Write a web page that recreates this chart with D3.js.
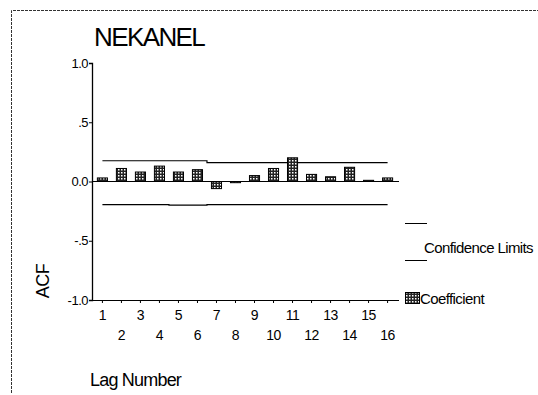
<!DOCTYPE html>
<html>
<head>
<meta charset="utf-8">
<script src="https://cdn.jsdelivr.net/npm/d3@7"></script>
<style>
  body { margin: 0; background: #fff; }
  text { font-family: "Liberation Sans", Arial, sans-serif; fill: #000; }
</style>
</head>
<body>
<div id="chart"></div>
<script>
// ACF values
var lags = [1, 2, 3, 4, 5, 6, 7, 8, 9, 10, 11, 12, 13, 14, 15, 16];
var coefficient = [0.03, 0.11, 0.08, 0.13, 0.08, 0.10, -0.06, -0.01, 0.05, 0.11, 0.20, 0.06, 0.04, 0.12, 0.01, 0.03];
var upper_limit = [0.175, 0.175, 0.175, 0.175, 0.175, 0.175, 0.16, 0.16, 0.16, 0.16, 0.16, 0.16, 0.16, 0.16, 0.16, 0.16];
var lower_limit = [-0.195, -0.195, -0.195, -0.195, -0.2, -0.2, -0.195, -0.195, -0.195, -0.195, -0.195, -0.195, -0.195, -0.195, -0.195, -0.195];
var y_ticks = [1.0, 0.5, 0.0, -0.5, -1.0];
var y_tick_labels = ["1.0", ".5", "0.0", "-.5", "-1.0"];

var width = 538,
    height = 395;

var svg = d3.select("#chart").append("svg")
    .attr("width", width)
    .attr("height", height);

// dotted fill for the bars
var pat = svg.append("defs").append("pattern")
    .attr("id", "dots")
    .attr("patternUnits", "userSpaceOnUse")
    .attr("width", 3)
    .attr("height", 3);
pat.append("rect").attr("width", 3).attr("height", 3).attr("fill", "#222");
pat.append("rect").attr("x", 1).attr("y", 1).attr("width", 1.5).attr("height", 1.5).attr("fill", "#fff");

// outer frame (only top and left show)
svg.append("path")
    .attr("d", "M11.5,393 V10.5 H538")
    .attr("fill", "none")
    .attr("stroke", "#333")
    .attr("stroke-dasharray", "3,1");

var x = d3.scaleBand()
    .domain(lags)
    .range([93, 397])
    .paddingInner(0.47)
    .paddingOuter(0.23);

var y = d3.scaleLinear()
    .domain([-1, 1])
    .range([300, 63]);

// title
svg.append("text")
    .attr("x", 94)
    .attr("y", 46)
    .attr("font-size", 26)
    .attr("letter-spacing", -1.6)
    .text("NEKANEL");

// y axis
var yAxis = svg.append("g")
    .attr("transform", "translate(92,0)")
    .call(d3.axisLeft(y)
        .tickValues(y_ticks)
        .tickSize(3)
        .tickFormat(function(d, i) { return y_tick_labels[i]; }));
yAxis.select(".domain").attr("stroke-width", 1.3);
yAxis.selectAll("text")
    .attr("font-size", 13)
    .attr("letter-spacing", -0.5)
    .attr("x", -4);

// x axis
var xAxis = svg.append("g")
    .attr("transform", "translate(0,300)")
    .call(d3.axisBottom(x).tickSize(3).tickSizeOuter(0));
xAxis.select(".domain").attr("d", "M92,0.5H399");
xAxis.selectAll("text")
    .attr("font-size", 14)
    .attr("letter-spacing", -0.5)
    .attr("y", function(d) { return d % 2 === 1 ? 10 : 30; });

// zero line
svg.append("line")
    .attr("x1", 92)
    .attr("x2", 399)
    .attr("y1", y(0))
    .attr("y2", y(0))
    .attr("stroke", "#000");

// confidence limits
var limit_line = d3.line()
    .x(function(d, i) { return x(lags[i]) + x.bandwidth() / 2; })
    .y(function(d) { return y(d); })
    .curve(d3.curveStep);

[upper_limit, lower_limit].forEach(function(vals) {
    svg.append("path")
        .attr("d", limit_line(vals))
        .attr("fill", "none")
        .attr("stroke", "#000")
        .attr("stroke-width", 1.2);
});

// bars
svg.append("g").selectAll("rect")
    .data(coefficient)
    .enter().append("rect")
    .attr("x", function(d, i) { return x(lags[i]); })
    .attr("width", x.bandwidth())
    .attr("y", function(d) { return y(Math.max(0, d)); })
    .attr("height", function(d) { return Math.abs(y(d) - y(0)); })
    .attr("fill", "url(#dots)")
    .attr("stroke", "#000")
    .attr("stroke-width", 1);

// axis titles
svg.append("text")
    .attr("transform", "translate(49,281) rotate(-90)")
    .attr("text-anchor", "middle")
    .attr("font-size", 18)
    .attr("letter-spacing", -0.5)
    .text("ACF");

svg.append("text")
    .attr("x", 90)
    .attr("y", 386)
    .attr("font-size", 18)
    .attr("letter-spacing", -0.8)
    .text("Lag Number");

// legend
var legend = svg.append("g");
legend.append("line")
    .attr("x1", 405).attr("x2", 427)
    .attr("y1", 223.5).attr("y2", 223.5)
    .attr("stroke", "#000");
legend.append("line")
    .attr("x1", 405).attr("x2", 427)
    .attr("y1", 260.5).attr("y2", 260.5)
    .attr("stroke", "#000");
legend.append("text")
    .attr("x", 424)
    .attr("y", 253)
    .attr("font-size", 15)
    .attr("letter-spacing", -0.6)
    .text("Confidence Limits");
legend.append("rect")
    .attr("x", 405.5).attr("y", 292.5)
    .attr("width", 14).attr("height", 11)
    .attr("fill", "url(#dots)")
    .attr("stroke", "#000");
legend.append("text")
    .attr("x", 420)
    .attr("y", 304)
    .attr("font-size", 15)
    .attr("letter-spacing", -0.6)
    .text("Coefficient");
</script>
</body>
</html>
